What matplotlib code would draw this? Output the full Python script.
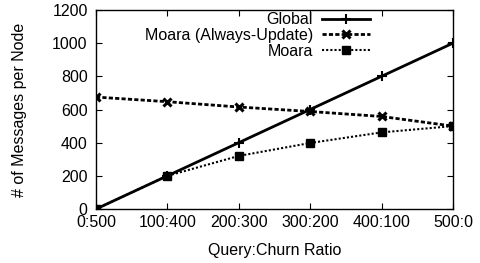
import numpy as np
import matplotlib.pyplot as plt

plt.rcParams['font.family'] = ['Liberation Sans', 'DejaVu Sans']

ratios = ['0:500', '100:400', '200:300', '300:200', '400:100', '500:0']
global_msgs = [0, 200, 400, 600, 800, 1000]
always_update_msgs = [675, 647, 615, 588, 558, 500]
moara_msgs = [0, 200, 320, 398, 462, 500]

x = np.arange(len(ratios))

fig = plt.figure(figsize=(4.81, 2.63), dpi=100)
ax = fig.add_axes([0.1996, 0.2053, 0.742, 0.7567])

ax.plot(x, global_msgs, color='black', lw=2, marker='+', ms=7, mew=1.5,
        label='Global')
ax.plot(x, always_update_msgs, color='black', lw=2, ls=(0, (1.5, 0.8)),
        marker='x', ms=6, mew=2.2, label='Moara (Always-Update)')
ax.plot(x, moara_msgs, color='black', lw=1.5, ls=(0, (1, 1)),
        marker='s', ms=6, mew=1, label='Moara')

ax.set_xlim(0, len(ratios) - 1)
ax.set_ylim(0, 1200)
ax.set_xticks(x)
ax.set_xticklabels(ratios)
ax.set_yticks(np.arange(0, 1201, 200))
ax.tick_params(direction='in', top=True, right=True, length=4,
               labelsize=11.5, width=0.8, pad=4)
ax.tick_params(axis='y', pad=6)
for s in ax.spines.values():
    s.set_linewidth(1)

ax.set_xlabel('Query:Churn Ratio', fontsize=11.5, labelpad=10)
ax.set_ylabel('# of Messages per Node', fontsize=11.5, labelpad=18)

leg = ax.legend(loc='upper right', bbox_to_anchor=(0.80, 1.045), frameon=False,
                markerfirst=False, fontsize=11.5, handlelength=3.0,
                labelspacing=0.05, handletextpad=0.6, borderpad=0.2)
for t in leg.get_texts():
    t.set_ha('right')
    t.set_position((0, 0))
leg._legend_box.align = 'right'

fig.savefig('out.png', dpi=100)
